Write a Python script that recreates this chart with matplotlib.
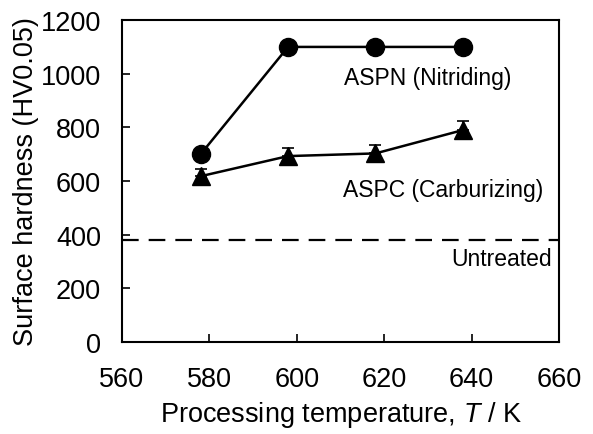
import matplotlib.pyplot as plt

# Data
temps = [578, 598, 618, 638]
nitriding = [700, 1100, 1100, 1100]
carburizing = [618, 693, 703, 790]
carb_err_up = [28, 30, 30, 32]
untreated = 380

plt.rcParams['font.family'] = ['Liberation Sans', 'DejaVu Sans']
plt.rcParams['mathtext.fontset'] = 'custom'
plt.rcParams['mathtext.rm'] = 'Liberation Sans'
plt.rcParams['mathtext.it'] = 'Liberation Sans:italic'

fig = plt.figure(figsize=(5.93, 4.35), dpi=100)
ax = fig.add_axes([0.2057, 0.2115, 0.737, 0.740])

# ASPN (circles)
ax.plot(temps, nitriding, color='black', marker='o', markersize=13, linewidth=1.8)

# ASPC (triangles), only the upper error bar shows above the marker
ax.errorbar(temps, carburizing, yerr=[[0] * len(temps), carb_err_up], color='black',
            marker='^', markersize=13, linewidth=1.8, capsize=4, elinewidth=1.2, capthick=1.2)

# Untreated level
ax.axhline(untreated, color='black', linestyle=(0, (7.5, 4.5)), linewidth=1.6)

ax.text(649.2, 962, 'ASPN (Nitriding)', fontsize=16.5, ha='right', va='baseline')
ax.text(656.3, 545, 'ASPC (Carburizing)', fontsize=16.5, ha='right', va='baseline')
ax.text(658.4, 287, 'Untreated', fontsize=16.5, ha='right', va='baseline')

ax.set_xlim(560, 660)
ax.set_ylim(0, 1200)
ax.set_xticks([560, 580, 600, 620, 640, 660])
ax.set_yticks([0, 200, 400, 600, 800, 1000, 1200])
ax.tick_params(direction='in', length=6, width=1.2, labelsize=19.5)
ax.tick_params(axis='x', pad=17)
ax.tick_params(axis='y', pad=15)
for s in ax.spines.values():
    s.set_linewidth(1.5)

ax.set_xlabel('Processing temperature, $\\mathit{T}$ / K', fontsize=19.5, labelpad=5)
ax.set_ylabel('Surface hardness (HV0.05)', fontsize=19.5, labelpad=1)

fig.savefig('out.png', dpi=100)
